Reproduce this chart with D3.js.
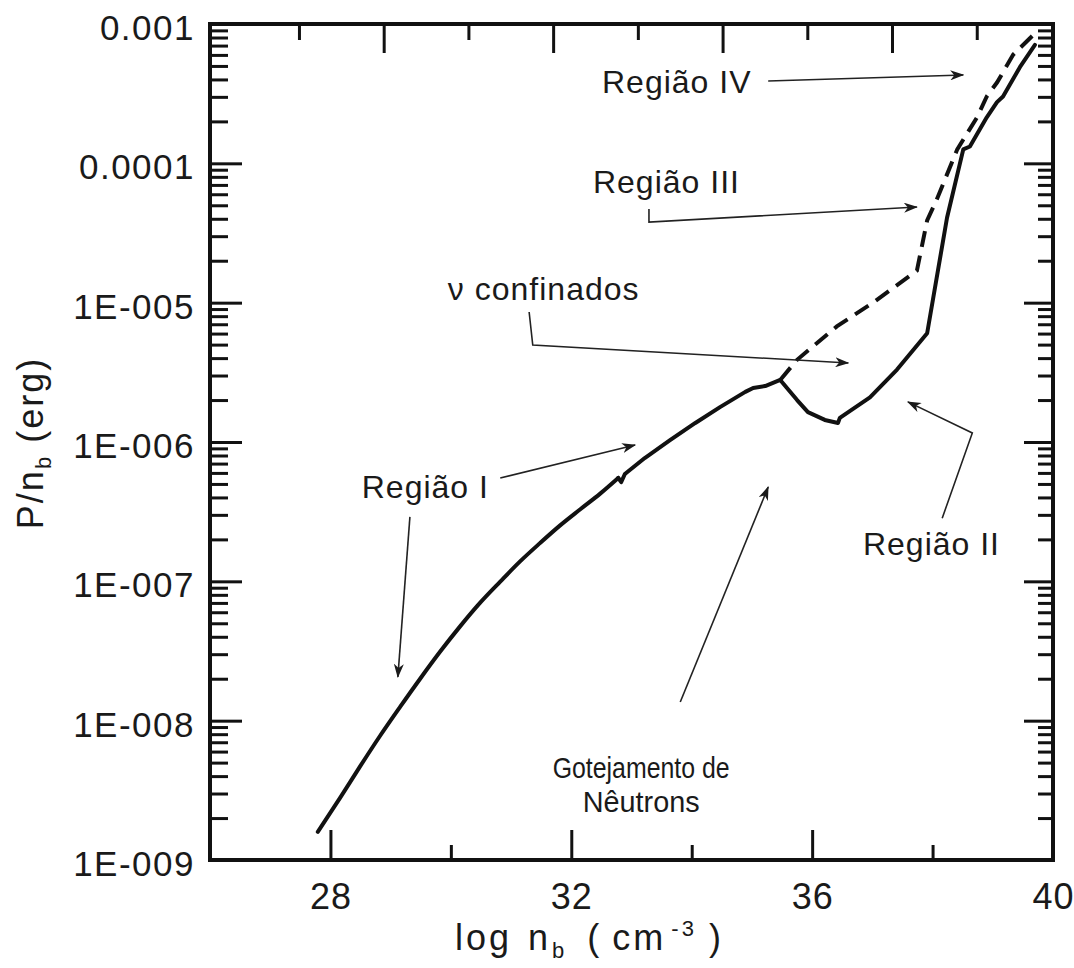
<!DOCTYPE html>
<html><head><meta charset="utf-8">
<script src="https://cdn.jsdelivr.net/npm/d3@7"></script>
<style>
body{margin:0;background:#fff}
svg{display:block}
text{font-family:"Liberation Sans",Arial,Helvetica,sans-serif;fill:#1a1a1a}
</style>
</head><body>
<svg id="chart" width="1074" height="968"></svg>
<script>
// ---- data (log n_b, P/n_b in erg) ----
const solidX = [27.79,28.16,28.49,28.82,29.16,29.49,29.82,30.15,30.48,30.82,31.15,31.48,31.81,32.15,32.48,32.78,32.83,32.89,33.22,33.64,34.06,34.47,34.89,35.02,35.22,35.47,35.75,35.93,36.21,36.43,36.46,36.96,37.41,37.91,38.24,38.51,38.62,38.90,39.07,39.17,39.45,39.70];
const solidY = [1.59e-9,2.79e-9,4.68e-9,7.73e-9,1.26e-8,2.00e-8,3.12e-8,4.73e-8,6.97e-8,9.95e-8,1.39e-7,1.88e-7,2.51e-7,3.29e-7,4.26e-7,5.52e-7,5.16e-7,5.89e-7,7.67e-7,1.03e-6,1.37e-6,1.78e-6,2.29e-6,2.44e-6,2.52e-6,2.79e-6,2.00e-6,1.64e-6,1.44e-6,1.37e-6,1.49e-6,2.09e-6,3.31e-6,6.03e-6,4.07e-5,1.26e-4,1.32e-4,2.14e-4,2.75e-4,3.02e-4,4.90e-4,7.08e-4];
const dashX = [35.47,35.75,36.41,37.01,37.74,37.91,38.07,38.41,38.74,38.90,39.07,39.34,39.67];
const dashY = [2.79e-6,3.89e-6,6.76e-6,1.00e-5,1.70e-5,3.89e-5,5.50e-5,1.26e-4,2.14e-4,3.02e-4,3.80e-4,6.03e-4,8.32e-4];
const smoothUpTo = 15; // solid points 0..15 form the smooth low-density branch

const xTicks = [28,32,36,40];
const xMinorTicks = [30,34,38];
const yTicks = [1e-9,1e-8,1e-7,1e-6,1e-5,1e-4,1e-3];
const yTickLabels = ["1E-009","1E-008","1E-007","1E-006","1E-005","0.0001","0.001"];
const topShortTicks = [1,3,5,7,9];
const topLongTicks = [2,4,6,8];

// annotations: text anchors and arrow paths in data coordinates
const labels = [
  {t:"Região IV", x:32.51, y:3.20e-4, anchor:"start"},
  {t:"Região III", x:32.36, y:6.12e-5, anchor:"start"},
  {t:"ν confinados", x:29.95, y:1.04e-5, anchor:"start"},
  {t:"Região I", x:28.52, y:3.96e-7, anchor:"start"},
  {t:"Região II", x:39.12, y:1.55e-7, anchor:"end"}
];
const narrowLabels = [
  {t:"Gotejamento de", x:33.16, y:3.87e-9, len:177},
  {t:"Nêutrons", x:33.16, y:2.21e-9, len:117}
];
const arrows = [
  [[35.27,3.90e-4],[38.51,4.31e-4]],
  [[33.29,4.70e-5],[33.29,3.79e-5],[37.74,4.86e-5]],
  [[31.30,8.57e-6],[31.36,4.97e-6],[36.60,3.69e-6]],
  [[30.82,5.52e-7],[33.06,9.51e-7]],
  [[29.32,2.90e-7],[29.12,2.06e-8]],
  [[33.81,1.36e-8],[35.27,4.75e-7]],
  [[38.16,2.84e-7],[38.66,1.16e-6],[37.59,1.94e-6]]
];

// ---- layout ----
const L = 210, R = 1053, T = 24, B = 860;
const svg = d3.select("#chart");
const x = d3.scaleLinear().domain([26,40]).range([L,R]);
const y = d3.scaleLog().domain([1e-9,1e-3]).range([B,T]);
const xTop = d3.scaleLinear().domain([-0.05,9.9]).range([L,R]);

const defs = svg.append("defs");
defs.append("marker").attr("id","ah").attr("viewBox","0 0 14 10")
  .attr("refX",13).attr("refY",5).attr("markerWidth",14).attr("markerHeight",10)
  .attr("markerUnits","userSpaceOnUse").attr("orient","auto")
  .append("path").attr("d","M0,0 L14,5 L0,10 L4,5 Z").attr("fill","#1a1a1a");

function styleAxis(g, w){
  g.select(".domain").remove();
  g.selectAll(".tick line").attr("stroke","#111").attr("stroke-width",w);
}

// bottom
svg.append("g").attr("transform",`translate(0,${B})`)
  .call(d3.axisBottom(x).tickValues(xTicks).tickSize(-30).tickPadding(23).tickFormat(d3.format("d")))
  .call(g=>{styleAxis(g,3);g.selectAll("text").attr("font-size",36).attr("font-family",null).attr("fill","#1a1a1a").attr("letter-spacing",1);});
svg.append("g").attr("transform",`translate(0,${B})`)
  .call(d3.axisBottom(x).tickValues(xMinorTicks).tickSize(-15).tickFormat(""))
  .call(g=>styleAxis(g,3));
// top
svg.append("g").attr("transform",`translate(0,${T})`)
  .call(d3.axisTop(xTop).tickValues(topLongTicks).tickSize(-29).tickFormat(""))
  .call(g=>styleAxis(g,3));
svg.append("g").attr("transform",`translate(0,${T})`)
  .call(d3.axisTop(xTop).tickValues(topShortTicks).tickSize(-16).tickFormat(""))
  .call(g=>styleAxis(g,3));

const yMinor = y.ticks().filter(v => !yTicks.some(t => Math.abs(t - v)/t < 1e-6));
// left
svg.append("g").attr("transform",`translate(${L},0)`)
  .call(d3.axisLeft(y).tickValues(yTicks).tickSize(-32).tickPadding(15)
    .tickFormat((d,i)=>yTickLabels[i]))
  .call(g=>{styleAxis(g,3);g.selectAll("text").attr("font-size",35).attr("font-family",null)
    .attr("fill","#1a1a1a").attr("letter-spacing",1.5).attr("dy","0.44em");});
svg.append("g").attr("transform",`translate(${L},0)`)
  .call(d3.axisLeft(y).tickValues(yMinor).tickSize(-18).tickFormat(""))
  .call(g=>styleAxis(g,3));
// right
svg.append("g").attr("transform",`translate(${R},0)`)
  .call(d3.axisRight(y).tickValues(yTicks).tickSize(-29).tickFormat(""))
  .call(g=>styleAxis(g,3));
svg.append("g").attr("transform",`translate(${R},0)`)
  .call(d3.axisRight(y).tickValues(yMinor).tickSize(-15).tickFormat(""))
  .call(g=>styleAxis(g,3));

// frame
svg.append("rect").attr("x",L).attr("y",T).attr("width",R-L).attr("height",B-T)
  .attr("fill","none").attr("stroke","#111").attr("stroke-width",4);

// curves
const line = d3.line().x(d=>x(d[0])).y(d=>y(d[1]));
const smoothLine = d3.line().x(d=>x(d[0])).y(d=>y(d[1])).curve(d3.curveMonotoneX);
const solid = solidX.map((v,i)=>[v,solidY[i]]);
const dashed = dashX.map((v,i)=>[v,dashY[i]]);
svg.append("path").datum(dashed).attr("d",line).attr("fill","none")
  .attr("stroke","#111").attr("stroke-width",4).attr("stroke-dasharray","16,9");
svg.append("path").datum(solid.slice(0,smoothUpTo+1)).attr("d",smoothLine).attr("fill","none")
  .attr("stroke","#111").attr("stroke-width",4).attr("stroke-linecap","round");
svg.append("path").datum(solid.slice(smoothUpTo)).attr("d",line).attr("fill","none")
  .attr("stroke","#111").attr("stroke-width",4).attr("stroke-linejoin","round").attr("stroke-linecap","round");

// arrows
arrows.forEach(a=>{
  svg.append("path").datum(a).attr("d",line).attr("fill","none")
    .attr("stroke","#222").attr("stroke-width",1.6).attr("marker-end","url(#ah)");
});

// annotation labels
labels.forEach(l=>{
  svg.append("text").attr("x",x(l.x)).attr("y",y(l.y)).attr("text-anchor",l.anchor)
    .attr("font-size",32).attr("letter-spacing",1).text(l.t);
});
narrowLabels.forEach(l=>{
  svg.append("text").attr("x",x(l.x)).attr("y",y(l.y)).attr("text-anchor","middle")
    .attr("font-size",29).attr("textLength",l.len).attr("lengthAdjust","spacingAndGlyphs").text(l.t);
});

// axis titles
const xt = svg.append("text").attr("x",455).attr("y",950).attr("text-anchor","start")
  .attr("font-size",36).attr("letter-spacing",3);
xt.append("tspan").text("log");
xt.append("tspan").attr("dx",16).text("n");
xt.append("tspan").attr("font-size",22).attr("dy",8).attr("dx",1).text("b");
xt.append("tspan").attr("dy",-8).attr("dx",20).text("(");
xt.append("tspan").attr("dx",10).text("cm");
xt.append("tspan").attr("font-size",22).attr("dy",-14).attr("dx",5).text("-3");
xt.append("tspan").attr("dy",14).attr("dx",12).text(")");

const yt = svg.append("text").attr("transform",`translate(43,443) rotate(-90)`).attr("text-anchor","middle")
  .attr("font-size",36).attr("letter-spacing",2);
yt.append("tspan").text("P/n");
yt.append("tspan").attr("font-size",22).attr("dy",8).text("b");
yt.append("tspan").attr("dy",-8).text(" (erg)");
</script>
</body></html>
